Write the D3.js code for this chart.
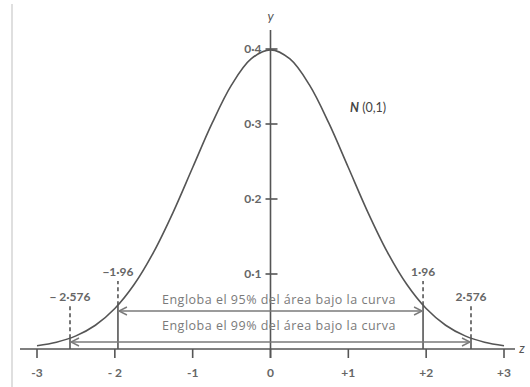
<!DOCTYPE html>
<html>
<head>
  <meta charset="UTF-8">
  <style>
    body { margin: 0; background: #fff; }
    svg { display: block; }
    text { font-family: Lato, "Open Sans", sans-serif; }
  </style>
</head>
<body>
<svg></svg>
<script src="https://d3js.org/d3.v7.min.js"></script>
<script>

let width = 530, height = 387;
let svg = d3.select("svg").attr("width", width).attr("height", height);

// density of N(0,1)
var zValues = [-3, -2.75, -2.5, -2.25, -2, -1.75, -1.5, -1.25, -1, -0.75, -0.5, -0.25, 0,
               0.25, 0.5, 0.75, 1, 1.25, 1.5, 1.75, 2, 2.25, 2.5, 2.75, 3];
var density = [0.0044, 0.0091, 0.0175, 0.0317, 0.0540, 0.0863, 0.1295, 0.1826, 0.2420, 0.3011, 0.3521, 0.3867, 0.3989,
               0.3867, 0.3521, 0.3011, 0.2420, 0.1826, 0.1295, 0.0863, 0.0540, 0.0317, 0.0175, 0.0091, 0.0044];

var xTicks = [-3, -2, -1, 0, 1, 2, 3];
var xTickLabels = ["-3", "- 2", "-1", "0", "+1", "+2", "+3"];
var yTicks = [0.1, 0.2, 0.3, 0.4];
var yTickLabels = ["0·1", "0·2", "0·3", "0·4"];

// interval limits: z, height of the curve there, label
var limitZ = [-2.576, -1.96, 1.96, 2.576];
var limitY = [0.0145, 0.0584, 0.0584, 0.0145];
var limitLabels = ["− 2·576", "−1·96", "1·96", "2·576"];

var bands = ["Engloba el 95% del área bajo la curva", "Engloba el 99% del área bajo la curva"];
var bandRange = [[-1.96, 1.96], [-2.576, 2.576]];

var x = d3.scaleLinear().domain([-3, 3]).range([37, 504]);
var y = d3.scaleLinear().domain([0, 0.4]).range([349, 49]);

var ink = "#555", soft = "#7a7a7a";

// frame edge on the left
svg.append("line").attr("x1", 12).attr("x2", 12).attr("y1", 4).attr("y2", height)
  .attr("stroke", "#d4d4d4").attr("stroke-width", 1.5);

svg.append("defs").append("marker")
  .attr("id", "head").attr("viewBox", "-10 -6 12 12")
  .attr("markerWidth", 12).attr("markerHeight", 12)
  .attr("markerUnits", "userSpaceOnUse")
  .attr("orient", "auto-start-reverse")
  .append("path").attr("d", "M-8,-4 L0,0 L-8,4")
  .attr("fill", "none").attr("stroke", soft).attr("stroke-width", 1.4);

// axes
svg.append("line").attr("x1", 20).attr("x2", 515).attr("y1", y(0)).attr("y2", y(0))
  .attr("stroke", ink).attr("stroke-width", 1.6);
svg.append("line").attr("x1", x(0)).attr("x2", x(0)).attr("y1", 30).attr("y2", y(0) + 9)
  .attr("stroke", ink).attr("stroke-width", 1.6);

svg.selectAll(".xt").data(xTicks).enter().append("line")
  .attr("x1", d => x(d)).attr("x2", d => x(d))
  .attr("y1", y(0)).attr("y2", y(0) + 9)
  .attr("stroke", ink).attr("stroke-width", 1.6);
svg.selectAll(".xl").data(xTicks).enter().append("text")
  .attr("x", d => x(d)).attr("y", y(0) + 28)
  .attr("text-anchor", "middle").attr("font-size", 12).attr("font-weight", 700)
  .attr("fill", "#666")
  .text((d, i) => xTickLabels[i]);

svg.selectAll(".yt").data(yTicks).enter().append("line")
  .attr("x1", x(0) - 5).attr("x2", x(0) + 7)
  .attr("y1", d => y(d)).attr("y2", d => y(d))
  .attr("stroke", ink).attr("stroke-width", 1.6);
svg.selectAll(".yl").data(yTicks).enter().append("text")
  .attr("x", x(0) - 9).attr("y", d => y(d) + 4)
  .attr("text-anchor", "end").attr("font-size", 12).attr("font-weight", 700)
  .attr("fill", "#666")
  .text((d, i) => yTickLabels[i]);

svg.append("text").attr("x", x(0)).attr("y", 21).attr("text-anchor", "middle")
  .attr("font-size", 13).attr("font-style", "italic").attr("fill", ink).text("y");
svg.append("text").attr("x", 522).attr("y", y(0) + 4).attr("text-anchor", "middle")
  .attr("font-size", 13).attr("font-style", "italic").attr("fill", ink).text("z");

// curve
var line = d3.line().x(d => x(d[0])).y(d => y(d[1])).curve(d3.curveCatmullRom);
svg.append("path").datum(zValues.map((z, i) => [z, density[i]]))
  .attr("d", line).attr("fill", "none").attr("stroke", ink).attr("stroke-width", 1.6);

svg.append("text").attr("x", 350).attr("y", 112).attr("font-size", 12.5).attr("fill", "#444")
  .html('<tspan font-style="italic" font-weight="700">N</tspan> (0,1)');

// limit lines: solid under the curve, dashed above
var limitTop = [306, 281, 281, 306];
limitZ.forEach(function (z, i) {
  svg.append("line").attr("x1", x(z)).attr("x2", x(z)).attr("y1", y(0)).attr("y2", y(limitY[i]))
    .attr("stroke", ink).attr("stroke-width", 1.6);
  svg.append("line").attr("x1", x(z)).attr("x2", x(z)).attr("y1", y(limitY[i])).attr("y2", limitTop[i])
    .attr("stroke", ink).attr("stroke-width", 1.6).attr("stroke-dasharray", "4,3");
  svg.append("text").attr("x", x(z)).attr("y", limitTop[i] - 5)
    .attr("text-anchor", "middle").attr("font-size", 12).attr("font-weight", 700)
    .attr("fill", "#666").text(limitLabels[i]);
});

// arrows with captions
var arrowY = [311, 342];
var captionY = [304, 330];
bands.forEach(function (label, i) {
  svg.append("line")
    .attr("x1", x(bandRange[i][0]) + 1).attr("x2", x(bandRange[i][1]) - 1)
    .attr("y1", arrowY[i]).attr("y2", arrowY[i])
    .attr("stroke", soft).attr("stroke-width", 1.6)
    .attr("marker-start", "url(#head)").attr("marker-end", "url(#head)");
  svg.append("text").attr("x", 162).attr("y", captionY[i])
    .style("font-family", "'Open Sans', sans-serif")
    .style("letter-spacing", "0.5px")
    .attr("font-size", 12.5).attr("fill", soft).text(label);
});

</script>
</body>
</html>
